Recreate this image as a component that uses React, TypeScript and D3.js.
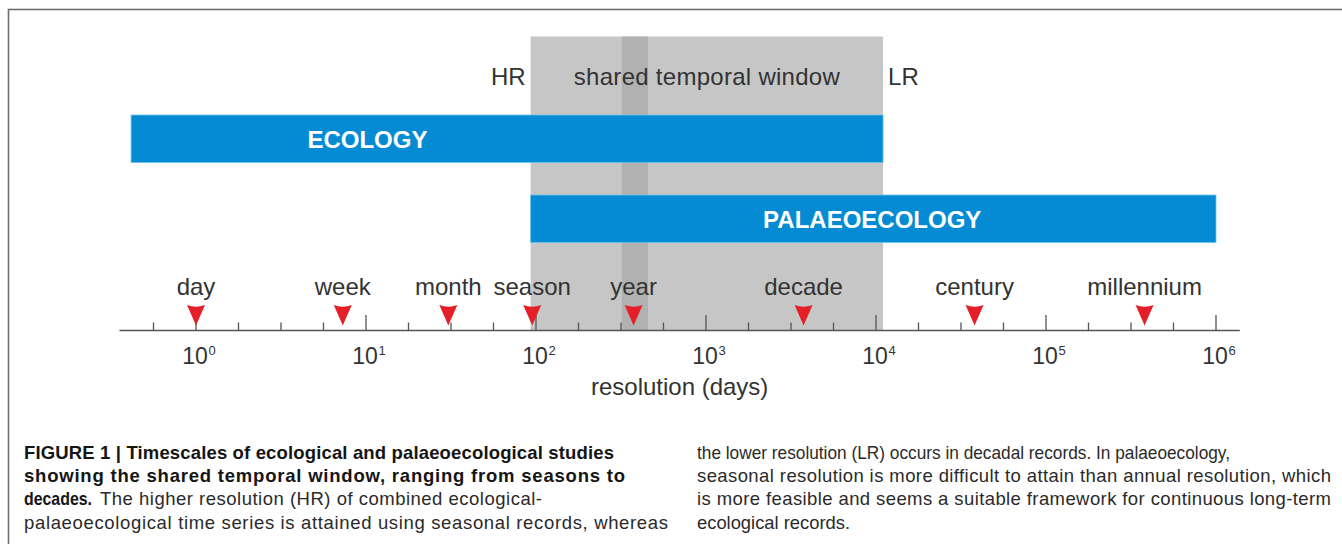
import React, {useEffect, useRef} from "react";
import * as d3 from "d3";

// timescale markers (days)
const timescales = ["day", "week", "month", "season", "year", "decade", "century", "millennium"];
const timescaleDays = [1, 7.3, 30.5, 95, 375, 3750, 38000, 380000];

// study ranges (days)
const studies = ["ECOLOGY", "PALAEOECOLOGY"];
const studyFrom = [0.415, 93];
const studyTo = [11000, 1000000];
const studyLabelAt = [10.2, 9500];

const sharedWindow = [93, 11000];
const yearBand = [320, 456];
const windowLabels = ["HR", "shared temporal window", "LR"];

const decadeExponents = [0, 1, 2, 3, 4, 5, 6];
const quarterSteps = d3.range(-1, 25);
const axisExtent = [10 ** -0.45, 10 ** 6.14];
const axisTitle = "resolution (days)";

// caption
const captionText = [
    "FIGURE 1 | Timescales of ecological and palaeoecological studies",
    "showing the shared temporal window, ranging from seasons to",
    "decades.",
    "The higher resolution (HR) of combined ecological-",
    "palaeoecological time series is attained using seasonal records, whereas",
    "the lower resolution (LR) occurs in decadal records. In palaeoecology,",
    "seasonal resolution is more difficult to attain than annual resolution, which",
    "is more feasible and seems a suitable framework for continuous long-term",
    "ecological records.",
];
const captionBold = [true, true, true, false, false, false, false, false, false];

// layout of the caption pieces: [x0, x1, row]
const captionLayout = [
    [24, 614, 0], [24, 625, 1], [24, 92, 2], [100, 542, 2], [24, 668, 3],
    [697, 1230, 0], [697, 1331, 1], [697, 1331, 2], [697, 850, 3],
];

const W = 1342;
const H = 544;
const FONT = "'Liberation Sans', Arial, Helvetica, sans-serif";

function draw(svg: d3.Selection<SVGSVGElement, unknown, null, undefined>) {
    const axisY = 330.5;
    const x = d3.scaleLog().domain([1, 1e6]).range([196, 1216]);
    const yBar = d3.scaleBand().domain(studies).range([115, 242.5]).paddingInner(0.40625).paddingOuter(0);

    // frame
    svg.append("rect")
        .attr("x", 8.5).attr("y", 9.5)
        .attr("width", W + 50).attr("height", H + 50)
        .attr("fill", "none").attr("stroke", "#6e6e6e").attr("stroke-width", 1.6);

    // shared window
    svg.append("rect")
        .attr("x", x(sharedWindow[0]))
        .attr("y", 36.5)
        .attr("width", x(sharedWindow[1]) - x(sharedWindow[0]))
        .attr("height", axisY - 36.5)
        .attr("fill", "#c6c6c6");
    svg.append("rect")
        .attr("x", x(yearBand[0]))
        .attr("y", 36.5)
        .attr("width", x(yearBand[1]) - x(yearBand[0]))
        .attr("height", axisY - 36.5)
        .attr("fill", "#b1b1b1");

    const wx0 = x(sharedWindow[0]);
    const wx1 = x(sharedWindow[1]);
    svg.append("g")
        .attr("font-family", FONT).attr("font-size", 24).attr("fill", "#333")
        .selectAll("text")
        .data(windowLabels)
        .join("text")
        .attr("x", (_, i) => i === 0 ? wx0 - 5 : i === 1 ? (wx0 + wx1) / 2 : wx1 + 5)
        .attr("y", 85)
        .attr("text-anchor", (_, i) => i === 0 ? "end" : i === 1 ? "middle" : "start")
        .attr("textLength", (_, i) => i === 1 ? 266 : null)
        .text(d => d);

    // study bars
    const bars = svg.append("g").selectAll("g")
        .data(studies)
        .join("g");
    bars.append("rect")
        .attr("x", (_, i) => x(studyFrom[i]))
        .attr("y", d => yBar(d) ?? 0)
        .attr("width", (_, i) => x(studyTo[i]) - x(studyFrom[i]))
        .attr("height", yBar.bandwidth())
        .attr("fill", "#058bd3")
        .attr("stroke", "#6cc3ec")
        .attr("stroke-width", 0.8);
    bars.append("text")
        .attr("x", (_, i) => x(studyLabelAt[i]))
        .attr("y", d => (yBar(d) ?? 0) + yBar.bandwidth() / 2 + 9)
        .attr("text-anchor", "middle")
        .attr("font-family", FONT)
        .attr("font-weight", "bold")
        .attr("font-size", 24)
        .attr("fill", "#fff")
        .text(d => d);

    // axis
    svg.append("line")
        .attr("x1", x(axisExtent[0])).attr("x2", x(axisExtent[1]))
        .attr("y1", axisY).attr("y2", axisY)
        .attr("stroke", "#555").attr("stroke-width", 1.5);

    svg.append("g")
        .attr("stroke", "#555").attr("stroke-width", 1.3)
        .selectAll("line")
        .data(quarterSteps)
        .join("line")
        .attr("x1", k => x(10 ** (k / 4))).attr("x2", k => x(10 ** (k / 4)))
        .attr("y1", axisY)
        .attr("y2", k => axisY - (k % 4 === 0 ? 15.5 : 8));

    const tickLabels = svg.append("g")
        .attr("font-family", FONT).attr("fill", "#333")
        .selectAll("g")
        .data(decadeExponents)
        .join("g")
        .attr("transform", e => `translate(${x(10 ** e)},0)`);
    tickLabels.append("text")
        .attr("x", -1).attr("y", 364).attr("text-anchor", "middle").attr("font-size", 23)
        .text("10");
    tickLabels.append("text")
        .attr("x", 12.5).attr("y", 355).attr("font-size", 13)
        .text(e => `${e}`);

    svg.append("text")
        .attr("x", (x(axisExtent[0]) + x(axisExtent[1])) / 2)
        .attr("y", 395)
        .attr("text-anchor", "middle")
        .attr("font-family", FONT).attr("font-size", 24).attr("fill", "#333")
        .text(axisTitle);

    // timescale markers
    const marks = svg.append("g")
        .selectAll("g")
        .data(timescales)
        .join("g")
        .attr("transform", (_, i) => `translate(${x(timescaleDays[i])},${axisY})`);
    marks.append("path")
        .attr("d", "M-9,-25.5 Q0,-22 9,-25.5 L0,-5 Z")
        .attr("fill", "#e41f28");
    marks.append("text")
        .attr("y", -35.5)
        .attr("text-anchor", "middle")
        .attr("font-family", FONT).attr("font-size", 24).attr("fill", "#333")
        .text(d => d);

    // caption, stretched or squeezed to the column widths
    const caption = svg.append("g")
        .attr("font-family", FONT).attr("font-size", 18.5)
        .selectAll<SVGTextElement, string>("text")
        .data(captionText)
        .join("text")
        .attr("x", (_, i) => captionLayout[i][0])
        .attr("y", (_, i) => 459 + captionLayout[i][2] * 23.2)
        .attr("font-weight", (_, i) => captionBold[i] ? "bold" : "normal")
        .attr("fill", (_, i) => captionBold[i] ? "#151515" : "#2a2a2a")
        .text(d => d);
    caption.each(function (_, i) {
        const target = captionLayout[i][1] - captionLayout[i][0];
        const natural = this.getComputedTextLength();
        d3.select(this)
            .attr("textLength", target)
            .attr("lengthAdjust", natural < target ? "spacing" : "spacingAndGlyphs");
    });
}

export default function App() {
    const ref = useRef<SVGSVGElement>(null);

    useEffect(() => {
        if (!ref.current) return;
        const svg = d3.select(ref.current);
        svg.selectAll("*").remove();
        draw(svg);
    }, []);

    return <svg
        ref={ref}
        width={W}
        height={H}
        style={{position: "absolute", left: 0, top: 0, background: "#fff"}}
    />;
}
